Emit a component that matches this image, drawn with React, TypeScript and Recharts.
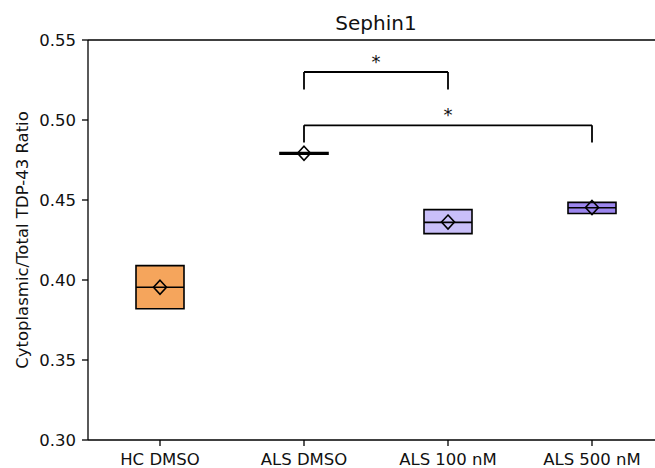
import React from 'react';
import {
  ComposedChart,
  Bar,
  Cell,
  Scatter,
  XAxis,
  YAxis,
  ReferenceLine,
} from 'recharts';

// groups and box statistics
const groups = ['HC DMSO', 'ALS DMSO', 'ALS 100 nM', 'ALS 500 nM'];
const boxLow = [0.382, 0.4787, 0.429, 0.4416];
const boxHigh = [0.409, 0.4797, 0.444, 0.4485];
const medians = [0.3955, 0.4792, 0.436, 0.4452];
const means = [0.3955, 0.4792, 0.4362, 0.4453];
const boxColors = ['#F5A55C', '#EDEDED', '#C9BFF9', '#9C86EE'];

const yTicks = [0.3, 0.35, 0.4, 0.45, 0.5, 0.55];

// significance brackets
const bracketFrom = ['ALS DMSO', 'ALS DMSO'];
const bracketTo = ['ALS 100 nM', 'ALS 500 nM'];
const bracketTop = [0.53, 0.4967];
const bracketFoot = [0.519, 0.486];
const bracketMark = ['*', '*'];

const data = groups.map((name, i) => ({
  name,
  range: [boxLow[i], boxHigh[i]],
  median: medians[i],
  mean: means[i],
}));

const FONT = '"DejaVu Sans", sans-serif';
const BOX_W = 48;

const MedianLine = (props: any) => {
  const { cx, cy } = props;
  return (
    <line
      x1={cx - BOX_W / 2}
      x2={cx + BOX_W / 2}
      y1={cy}
      y2={cy}
      stroke="#000"
      strokeWidth={1.6}
    />
  );
};

const MeanDiamond = (props: any) => {
  const { cx, cy } = props;
  const w = 6.5;
  const h = 7;
  return (
    <path
      d={`M${cx},${cy - h} L${cx + w},${cy} L${cx},${cy + h} L${cx - w},${cy} Z`}
      fill="none"
      stroke="#000"
      strokeWidth={1.6}
    />
  );
};

export default function App() {
  return (
    <div
      style={{
        position: 'absolute',
        left: 0,
        top: 0,
        width: 655,
        height: 468,
        overflow: 'hidden',
        background: '#fff',
      }}
    >
      <div
        style={{
          position: 'absolute',
          left: 88,
          top: 13,
          width: 576,
          textAlign: 'center',
          fontFamily: FONT,
          fontSize: 20,
          lineHeight: '20px',
          color: '#111',
        }}
      >
        Sephin1
      </div>
      <ComposedChart
        width={700}
        height={468}
        data={data}
        margin={{ top: 40, right: 36, bottom: 0, left: 0 }}
      >
        <XAxis
          dataKey="name"
          type="category"
          height={28}
          interval={0}
          tickSize={6}
          tickMargin={7}
          tick={{ fontSize: 16.5, fill: '#111', fontFamily: FONT }}
          axisLine={{ stroke: '#000', strokeWidth: 1.3 }}
          tickLine={{ stroke: '#000', strokeWidth: 1.3 }}
        />
        <YAxis
          type="number"
          width={88}
          domain={[0.3, 0.55]}
          ticks={yTicks}
          allowDataOverflow
          tickFormatter={(v: number) => v.toFixed(2)}
          tickSize={6}
          tickMargin={6}
          tick={{ fontSize: 16.5, fill: '#111', fontFamily: FONT }}
          axisLine={{ stroke: '#000', strokeWidth: 1.3 }}
          tickLine={{ stroke: '#000', strokeWidth: 1.3 }}
          label={{
            content: (p: any) => {
              const vb = p.viewBox || { x: 0, y: 40, height: 400 };
              const x = vb.x + 28;
              const y = vb.y + vb.height / 2;
              return (
                <text
                  x={x}
                  y={y}
                  transform={`rotate(-90, ${x}, ${y})`}
                  textAnchor="middle"
                  fontSize={16.5}
                  fontFamily={FONT}
                  fill="#111"
                >
                  Cytoplasmic/Total TDP-43 Ratio
                </text>
              );
            },
          }}
        />
        <ReferenceLine y={0.55} stroke="#000" strokeWidth={1.3} ifOverflow="visible" />
        <Bar
          dataKey="range"
          barSize={BOX_W}
          stroke="#000"
          strokeWidth={1.6}
          isAnimationActive={false}
        >
          {data.map((d, i) => (
            <Cell key={d.name} fill={boxColors[i]} />
          ))}
        </Bar>
        <Scatter dataKey="median" shape={<MedianLine />} isAnimationActive={false} />
        <Scatter dataKey="mean" shape={<MeanDiamond />} isAnimationActive={false} />
        {bracketFrom.map((from, i) => (
          <ReferenceLine
            key={`top-${i}`}
            segment={[
              { x: from, y: bracketTop[i] },
              { x: bracketTo[i], y: bracketTop[i] },
            ]}
            stroke="#000"
            strokeWidth={1.8}
            ifOverflow="visible"
            label={{
              value: bracketMark[i],
              position: 'top',
              offset: 4,
              fontSize: 18,
              fontFamily: FONT,
              fill: '#111',
            }}
          />
        ))}
        {bracketFrom.map((from, i) => (
          <ReferenceLine
            key={`l-${i}`}
            segment={[
              { x: from, y: bracketTop[i] },
              { x: from, y: bracketFoot[i] },
            ]}
            stroke="#000"
            strokeWidth={1.8}
            ifOverflow="visible"
          />
        ))}
        {bracketTo.map((to, i) => (
          <ReferenceLine
            key={`r-${i}`}
            segment={[
              { x: to, y: bracketTop[i] },
              { x: to, y: bracketFoot[i] },
            ]}
            stroke="#000"
            strokeWidth={1.8}
            ifOverflow="visible"
          />
        ))}
      </ComposedChart>
    </div>
  );
}
